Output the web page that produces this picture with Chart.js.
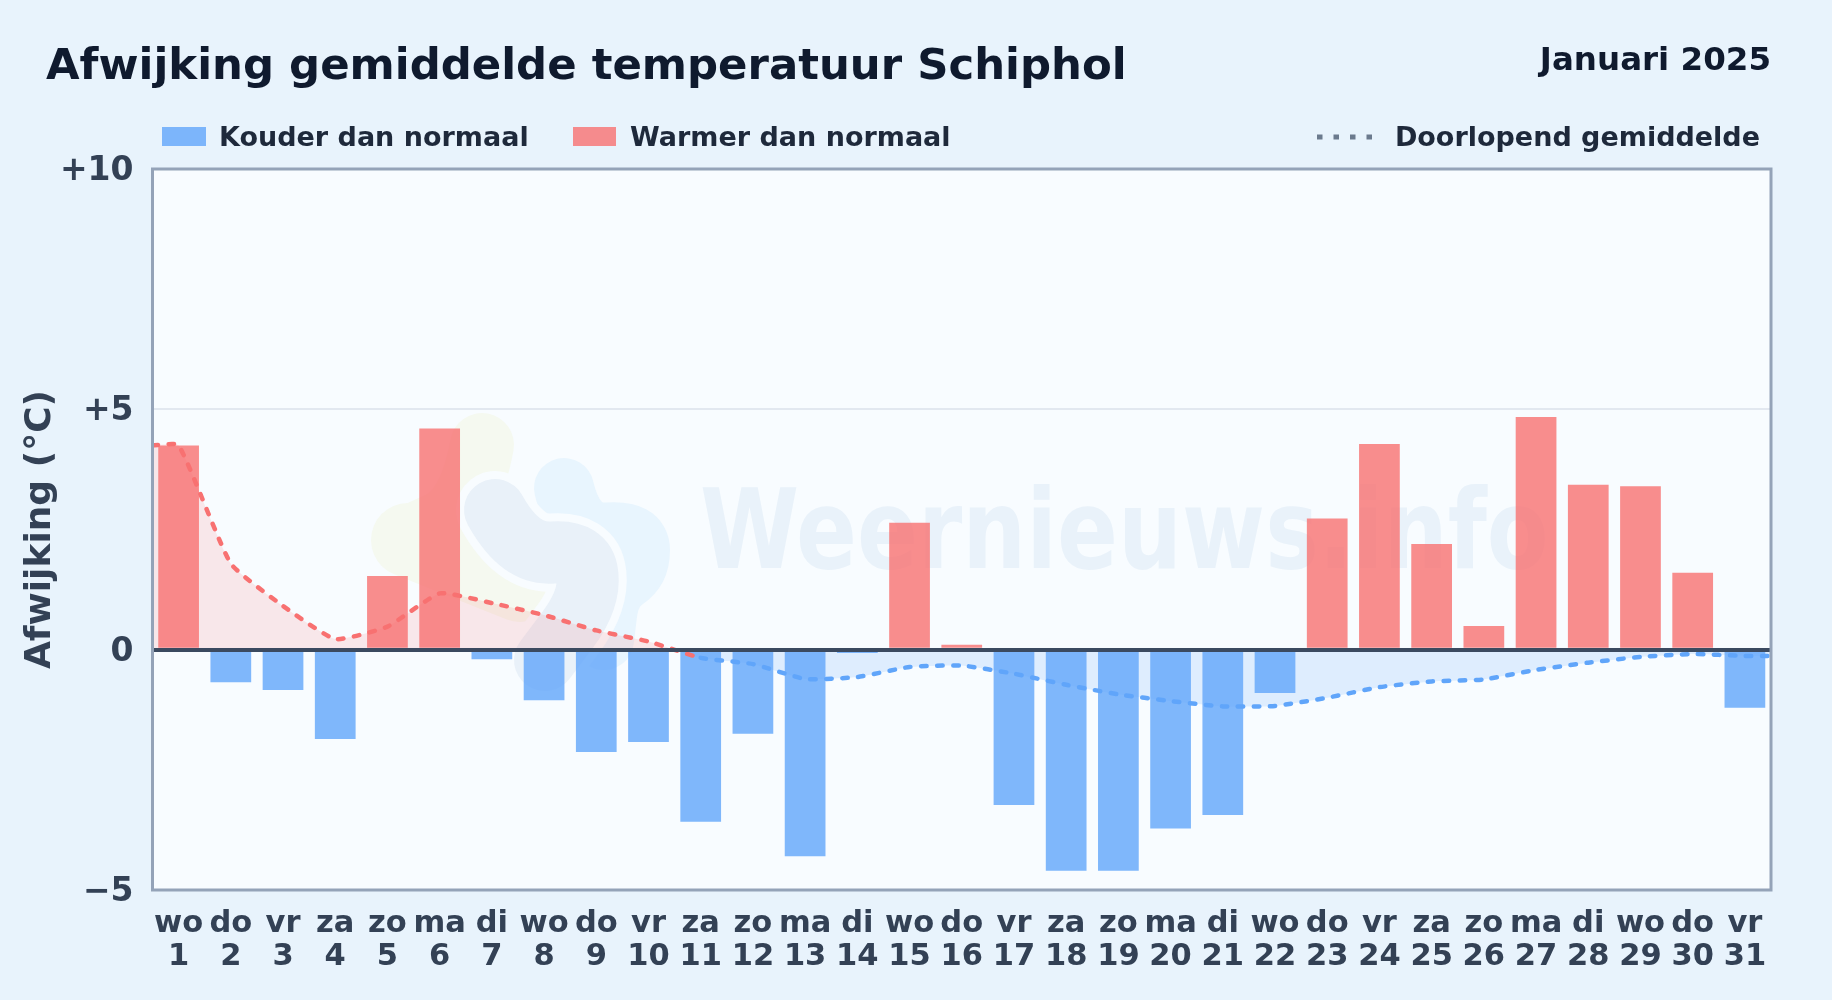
<!DOCTYPE html>
<html lang="nl"><head><meta charset="utf-8">
<style>html,body{margin:0;padding:0;background:#e8f3fc;width:1832px;height:1000px;overflow:hidden}canvas{display:block}</style>
<script src="https://cdn.jsdelivr.net/npm/chart.js@4"></script></head>
<body><canvas id="c" width="1832" height="1000" style="width:1832px;height:1000px"></canvas>
<script>
const chartTitle='Afwijking gemiddelde temperatuur Schiphol';
const period='Januari 2025';
const weekdays=['wo','do','vr','za','zo','ma','di','wo','do','vr','za','zo','ma','di','wo','do','vr','za','zo','ma','di','wo','do','vr','za','zo','ma','di','wo','do','vr'];
const days=[1,2,3,4,5,6,7,8,9,10,11,12,13,14,15,16,17,18,19,20,21,22,23,24,25,26,27,28,29,30,31];
const anomaly=[4.25,-0.68,-0.84,-1.86,1.53,4.6,-0.2,-1.05,-2.13,-1.92,-3.58,-1.75,-4.3,-0.07,2.64,0.1,-3.23,-4.6,-4.6,-3.72,-3.44,-0.9,2.73,4.28,2.2,0.49,4.84,3.43,3.4,1.6,-1.21];
const runningMean=[4.25,1.79,0.91,0.22,0.48,1.17,0.97,0.72,0.4,0.17,-0.17,-0.3,-0.61,-0.57,-0.36,-0.33,-0.5,-0.73,-0.93,-1.07,-1.18,-1.17,-1.0,-0.78,-0.66,-0.62,-0.42,-0.27,-0.15,-0.09,-0.13];
const yTicks=[-5,0,5,10];
const FONT='"DejaVu Sans"';
const COLD='#60a5fa',WARM='#f87171';
const coldBars=anomaly.map(v=>v<0?v:null), warmBars=anomaly.map(v=>v>=0?v:null);
const linePts=[{x:days[0]-0.5,y:runningMean[0]},...days.map((d,i)=>({x:d,y:runningMean[i]})),{x:days[30]+0.5,y:runningMean[30]}];

function blob(ctx,color,w,pts){ctx.strokeStyle=color;ctx.lineWidth=w;ctx.lineCap='round';ctx.lineJoin='round';ctx.beginPath();ctx.moveTo(pts[0][0],pts[0][1]);
 for(let i=1;i<pts.length-1;i++){const mx=(pts[i][0]+pts[i+1][0])/2,my=(pts[i][1]+pts[i+1][1])/2;ctx.quadraticCurveTo(pts[i][0],pts[i][1],mx,my);}
 const l=pts[pts.length-1];ctx.lineTo(l[0],l[1]);ctx.stroke();}

const backdrop={id:'backdrop',beforeDraw(ch){const {ctx,chartArea:a}=ch;ctx.save();
 const BG='#f8fcff';
 ctx.fillStyle=BG;ctx.fillRect(a.left,a.top,a.width,a.height);
 blob(ctx,'#f5f9f0',64,[[482,445],[470,510],[408,538]]);
 blob(ctx,'#f5f9f0',74,[[408,540],[470,565],[520,585]]);
 blob(ctx,'#e8f5fe',60,[[564,488],[575,535],[640,530],[640,570],[610,590],[604,640]]);
 const mid=[[495,510],[520,555],[585,550],[590,600],[545,660]];
 blob(ctx,BG,78,mid);
 blob(ctx,'#e9f1f9',62,mid);
 ctx.fillStyle='#e9f2fa';ctx.font='bold 111px '+FONT;ctx.textAlign='left';ctx.textBaseline='alphabetic';
 ctx.translate(700,568);ctx.scale(0.81,1);ctx.fillText('Weernieuws.info',0,0);
 ctx.restore();}};

const frame={id:'frame',afterDraw(ch){const {ctx,chartArea:a}=ch;ctx.save();
 ctx.strokeStyle='#94a3b8';ctx.lineWidth=3;ctx.strokeRect(a.left,a.top,a.width,a.height);
 ctx.textBaseline='middle';ctx.fillStyle='#0f1a2e';
 ctx.font='bold 43.4px '+FONT;ctx.textAlign='left';ctx.fillText(chartTitle,46,67.5);
 ctx.font='bold 32.5px '+FONT;ctx.textAlign='right';ctx.fillText(period,1771,61.5);
 ctx.font='bold 27px '+FONT;ctx.textAlign='left';
 const ds=ch.data.datasets;
 ctx.fillStyle='rgba(96,165,250,0.8)';ctx.fillRect(162,127,44,19);
 ctx.fillStyle='rgba(248,113,113,0.8)';ctx.fillRect(573,127,43,19);
 ctx.fillStyle='#1e293b';
 ctx.fillText(ds[0].label,219,139);ctx.fillText(ds[1].label,630,139);
 ctx.textAlign='right';ctx.fillText(ds[2].label,1760,139);
 ctx.strokeStyle='#6b7a8d';ctx.lineWidth=5;ctx.setLineDash([5.5,11]);ctx.lineCap='butt';ctx.beginPath();ctx.moveTo(1317,137);ctx.lineTo(1373,137);ctx.stroke();
 ctx.restore();}};

new Chart(document.getElementById('c'),{
 data:{labels:days.map((d,i)=>[weekdays[i],String(d)]),datasets:[
  {type:'bar',label:'Kouder dan normaal',data:coldBars,backgroundColor:'rgba(96,165,250,0.8)',barPercentage:0.78,categoryPercentage:1,grouped:false,order:2},
  {type:'bar',label:'Warmer dan normaal',data:warmBars,backgroundColor:'rgba(248,113,113,0.8)',barPercentage:0.78,categoryPercentage:1,grouped:false,order:2},
  {type:'line',label:'Doorlopend gemiddelde',data:linePts,xAxisID:'xLine',order:1,tension:0.15,borderWidth:4.5,borderCapStyle:'round',borderDash:[5.5,10.5],pointRadius:0,
   borderColor:WARM,segment:{borderColor:c=>c.p0.parsed.y>=0?WARM:COLD},
   fill:{target:{value:0},above:'rgba(248,113,113,0.15)',below:'rgba(96,165,250,0.17)'}}
 ]},
 options:{responsive:false,animation:false,devicePixelRatio:1,
  layout:{padding:{left:19,right:61,top:169,bottom:0}},
  plugins:{legend:{display:false},tooltip:{enabled:false},filler:{drawTime:'beforeDatasetsDraw'},title:{display:false}},
  scales:{
   x:{type:'category',offset:true,grid:{display:false},border:{display:false},afterFit:s=>{s.height=110},
    ticks:{autoSkip:false,maxRotation:0,minRotation:0,color:'#334155',padding:10,font:{family:FONT,size:30.5,weight:'bold',lineHeight:1.08}}},
   xLine:{type:'linear',display:false,min:days[0]-0.5,max:days[30]+0.5},
   y:{min:yTicks[0],max:yTicks[3],position:'left',afterBuildTicks:s=>{s.ticks=yTicks.map(v=>({value:v}))},
    afterFit:s=>{s.width=133.5},
    border:{display:false},
    grid:{z:1,drawTicks:false,color:c=>c.tick.value===0?'#3b4a60':(c.tick.value===5?'#e2e8f0':'rgba(0,0,0,0)'),lineWidth:c=>c.tick.value===0?4:2},
    ticks:{padding:19,color:'#334155',font:{family:FONT,size:33,weight:'bold',lineHeight:'5px'},callback:v=>['',v>0?'+'+v:(v<0?'\u2212'+Math.abs(v):'0')]},
    title:{display:true,text:'Afwijking (°C)',color:'#334155',padding:{top:0,bottom:0},font:{family:FONT,size:36,weight:'bold'}}}
  }
 },
 plugins:[backdrop,frame]
});
</script></body></html>
